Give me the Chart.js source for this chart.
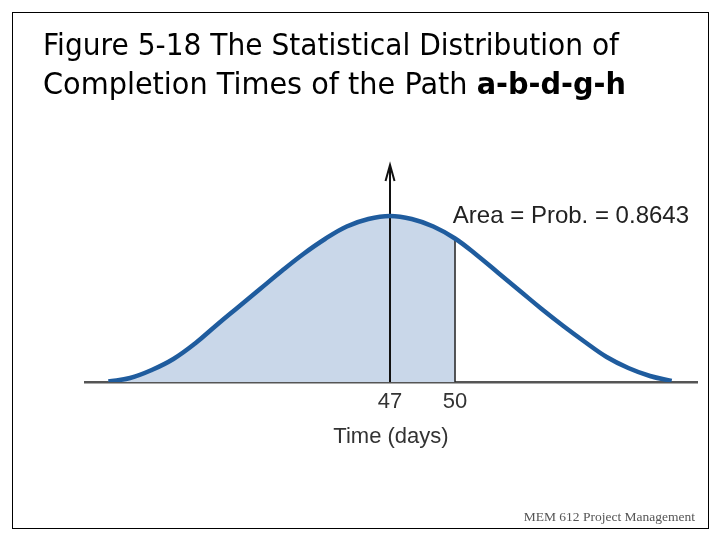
<!DOCTYPE html>
<html>
<head>
<meta charset="utf-8">
<script src="https://cdn.jsdelivr.net/npm/chart.js@4.4.1/dist/chart.umd.min.js"></script>
<style>
  html, body { margin: 0; padding: 0; background: #fff; }
  #slide { position: relative; width: 720px; height: 540px; overflow: hidden; background: #fff; }
  #chart { position: absolute; left: 0; top: 0; }
  #frame { position: absolute; left: 12px; top: 12px; width: 697px; height: 517px; box-sizing: border-box; border: 1px solid #000; }
  .title-line { position: absolute; left: 43px; font-family: "DejaVu Sans", Tahoma, sans-serif; font-size: 31px; line-height: 31px; color: #000; white-space: nowrap; transform-origin: 0 0; }
  #footer { position: absolute; right: 25px; top: 510px; font-family: "Liberation Serif", "Times New Roman", serif; font-size: 13.5px; line-height: 13.5px; color: #555; white-space: nowrap; }
</style>
</head>
<body>
<div id="slide">
  <canvas id="chart" width="720" height="540"></canvas>
  <div id="frame"></div>
  <div class="title-line" id="t1" data-w="576" style="top:29px">Figure 5-18 The Statistical Distribution of</div>
  <div class="title-line" id="t2" data-w="583" style="top:68px">Completion Times of the Path <b>a-b-d-g-h</b></div>
  <div id="footer">MEM 612 Project Management</div>
</div>
<script>
// curve (height above the baseline)
const days = [34, 35, 36, 37, 38, 39, 40, 41, 42, 43, 44, 45, 46, 47, 48, 49, 50, 51, 52, 53, 54, 55, 56, 57, 58, 59, 60];
const heights = [0.5, 4, 12, 23, 38.5, 57, 75, 93, 111, 128, 143, 155.5, 163, 166, 163, 155.5, 143.5, 127, 109, 91, 73, 56, 40, 25, 14, 6, 1];
const tickDays = [47, 50];
const meanDay = 47;
const cutDay = 50;
const arrowTop = 217;
const probLabel = 'Area = Prob. = 0.8643';

const curvePts = days.map((d, i) => ({ x: d, y: heights[i] }));
const shadePts = curvePts.filter(p => p.x <= cutDay);
const cutHeight = heights[days.indexOf(cutDay)];

// fit title lines to their width in the slide
document.querySelectorAll('.title-line').forEach(el => {
    const w = el.getBoundingClientRect().width;
    el.style.transform = 'scaleX(' + (parseFloat(el.dataset.w) / w) + ')';
});

const annot = {
    id: 'annot',
    afterDatasetsDraw(chart) {
        const { ctx, scales: { x, y } } = chart;
        // arrow head on the mean line
        const ax = x.getPixelForValue(meanDay);
        const ay = y.getPixelForValue(arrowTop);
        ctx.save();
        ctx.strokeStyle = '#111';
        ctx.lineWidth = 2;
        ctx.beginPath();
        ctx.moveTo(ax - 4.5, ay + 16);
        ctx.lineTo(ax, ay);
        ctx.lineTo(ax + 4.5, ay + 16);
        ctx.stroke();
        // probability label
        ctx.fillStyle = '#222';
        ctx.font = '24px "Liberation Sans", Arial, sans-serif';
        ctx.textBaseline = 'alphabetic';
        ctx.textAlign = 'left';
        ctx.fillText(probLabel, x.getPixelForValue(49.9), y.getPixelForValue(159));
        ctx.restore();
    }
};

new Chart(document.getElementById('chart'), {
    type: 'line',
    data: {
        datasets: [{
            data: curvePts,
            borderColor: '#1f5c9e',
            borderWidth: 4.5,
            tension: 0.4,
            fill: false,
            order: 0
        }, {
            data: shadePts,
            borderWidth: 0,
            borderColor: 'rgba(0,0,0,0)',
            backgroundColor: '#c9d7e9',
            tension: 0.4,
            fill: 'origin',
            order: 3
        }, {
            data: [{ x: meanDay, y: 0 }, { x: meanDay, y: arrowTop }],
            borderColor: '#111',
            borderWidth: 2,
            tension: 0,
            order: 1
        }, {
            data: [{ x: cutDay, y: 0 }, { x: cutDay, y: cutHeight }],
            borderColor: '#222',
            borderWidth: 1.5,
            tension: 0,
            order: 2
        }]
    },
    options: {
        responsive: false,
        animation: false,
        layout: { padding: { left: 85, right: 23, top: 150, bottom: 0 } },
        plugins: { legend: { display: false }, tooltip: { enabled: false } },
        elements: { point: { radius: 0 } },
        scales: {
            x: {
                type: 'linear',
                min: 32.92,
                max: 61.17,
                grid: { display: false, drawTicks: false },
                border: { display: true, color: '#555', width: 2.5 },
                afterBuildTicks: s => { s.ticks = tickDays.map(v => ({ value: v })); },
                afterFit: s => { s.height = 158; },
                ticks: {
                    padding: 7,
                    color: '#333',
                    font: { family: '"Liberation Sans", Arial, sans-serif', size: 22 },
                    callback: v => String(v)
                },
                title: {
                    display: true,
                    text: 'Time (days)',
                    color: '#333',
                    font: { family: '"Liberation Sans", Arial, sans-serif', size: 22 },
                    padding: { top: 0, bottom: 90 }
                }
            },
            y: { display: false, min: 0, max: 232 }
        }
    },
    plugins: [annot]
});
</script>
</body>
</html>
